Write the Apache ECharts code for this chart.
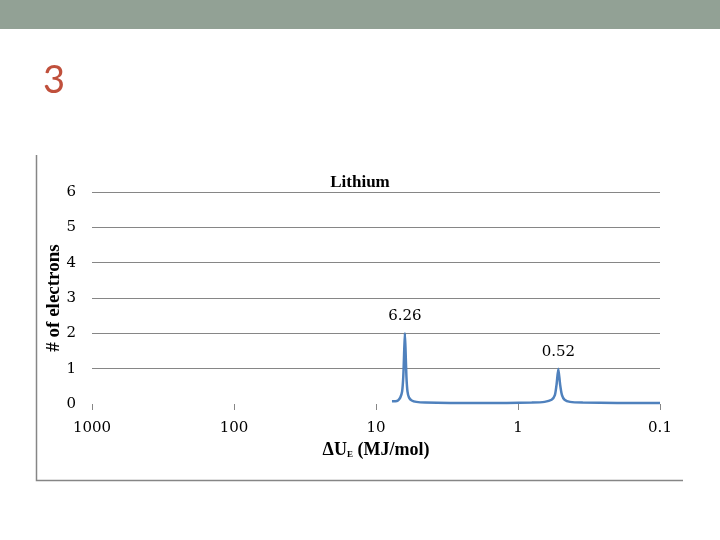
<!DOCTYPE html>
<html>
<head>
<meta charset="utf-8">
<style>html,body{margin:0;padding:0;background:#fff}#chart{width:720px;height:540px}</style>
<script src="https://cdn.jsdelivr.net/npm/echarts@6/dist/echarts.min.js"></script>
</head>
<body>
<div id="chart"></div>
<script>
// Energies (MJ/mol) and electron counts
var energies = [7.72, 7.3, 7.0, 6.75, 6.55, 6.42, 6.33, 6.26, 6.19, 6.11, 6.0, 5.85, 5.6, 5.2, 4.5, 3.0, 2.0, 1.2, 0.8, 0.65, 0.58, 0.55, 0.535, 0.52, 0.505, 0.49, 0.47, 0.43, 0.35, 0.2, 0.1];
var electrons = [0.08, 0.08, 0.1, 0.18, 0.35, 0.8, 1.5, 2.0, 1.5, 0.8, 0.35, 0.18, 0.1, 0.06, 0.04, 0.03, 0.03, 0.03, 0.04, 0.06, 0.12, 0.25, 0.55, 1.0, 0.55, 0.25, 0.12, 0.06, 0.04, 0.03, 0.03];
var peakLabels = [6.26, 0.52];
var xTicks = [1000, 100, 10, 1, 0.1];
var yTicks = [0, 1, 2, 3, 4, 5, 6];

var lineData = energies.map(function (e, i) { return [e, electrons[i]]; });
var peakData = peakLabels.map(function (e) { return [e, electrons[energies.indexOf(e)]]; });

var chart = echarts.init(document.getElementById('chart'));
var gridColors = ['rgba(0,0,0,0)'];
for (var i = 1; i < yTicks.length; i++) gridColors.push('#868686');

chart.setOption({
  animation: false,
  backgroundColor: '#fff',
  title: {
    text: 'Lithium', left: 'center', top: 169,
    textStyle: { fontFamily: 'Liberation Serif', fontWeight: 'bold', fontSize: 17, color: '#000' }
  },
  grid: { left: 92, right: 60, top: 192, bottom: 136 },
  xAxis: {
    type: 'log', logBase: 10, min: 0.1, max: 1000, inverse: true,
    name: 'ΔU{sub|E} (MJ/mol)', nameLocation: 'middle', nameGap: 37, nameMoveOverlap: false,
    nameTextStyle: { fontFamily: 'Liberation Serif', fontWeight: 'bold', fontSize: 18, color: '#000',
      rich: { sub: { fontFamily: 'Liberation Serif', fontWeight: 'bold', fontSize: 9, color: '#000', verticalAlign: 'bottom', padding: [8, 0, 0, 0] } } },
    axisLine: { show: false },
    axisTick: { show: true, length: 6, lineStyle: { color: '#868686' } },
    splitLine: { show: false },
    axisLabel: { margin: 17, fontFamily: 'DejaVu Serif', fontSize: 15, color: '#000',
      formatter: function (v) { return String(v); } }
  },
  yAxis: {
    type: 'value', min: 0, max: 6, interval: 1,
    name: '# of electrons', nameLocation: 'middle', nameGap: 28, nameMoveOverlap: false,
    nameTextStyle: { fontFamily: 'Liberation Serif', fontWeight: 'bold', fontSize: 19, color: '#000' },
    axisLine: { show: false }, axisTick: { show: false },
    axisLabel: { margin: 16, fontFamily: 'DejaVu Serif', fontSize: 15, color: '#000' },
    splitLine: { show: true, lineStyle: { color: gridColors, width: 1.2 } }
  },
  series: [{
    type: 'line', data: lineData, showSymbol: false, symbol: 'none', smooth: 0.2,
    lineStyle: { color: '#4f81bd', width: 2.5 },
    itemStyle: { color: '#4f81bd' }
  }, {
    type: 'scatter', data: peakData, symbolSize: 1, itemStyle: { color: 'rgba(0,0,0,0)', opacity: 1 },
    label: { show: true, position: 'top', distance: 9, opacity: 1,
      formatter: function (p) { return String(p.value[0]); },
      fontFamily: 'DejaVu Serif', fontSize: 15, color: '#000' }
  }],
  graphic: [
    { type: 'rect', shape: { x: 0, y: 0, width: 720, height: 29 }, style: { fill: '#92a195' } },
    { type: 'text', left: 43, top: 62, style: { text: '3', fontFamily: 'Lato', fontSize: 38, fill: '#c0503c' } },
    { type: 'polyline', shape: { points: [[36.5, 155], [36.5, 480.5], [683, 480.5]] },
      style: { stroke: '#868686', lineWidth: 1.5, fill: null } }
  ]
});
</script>
</body>
</html>
